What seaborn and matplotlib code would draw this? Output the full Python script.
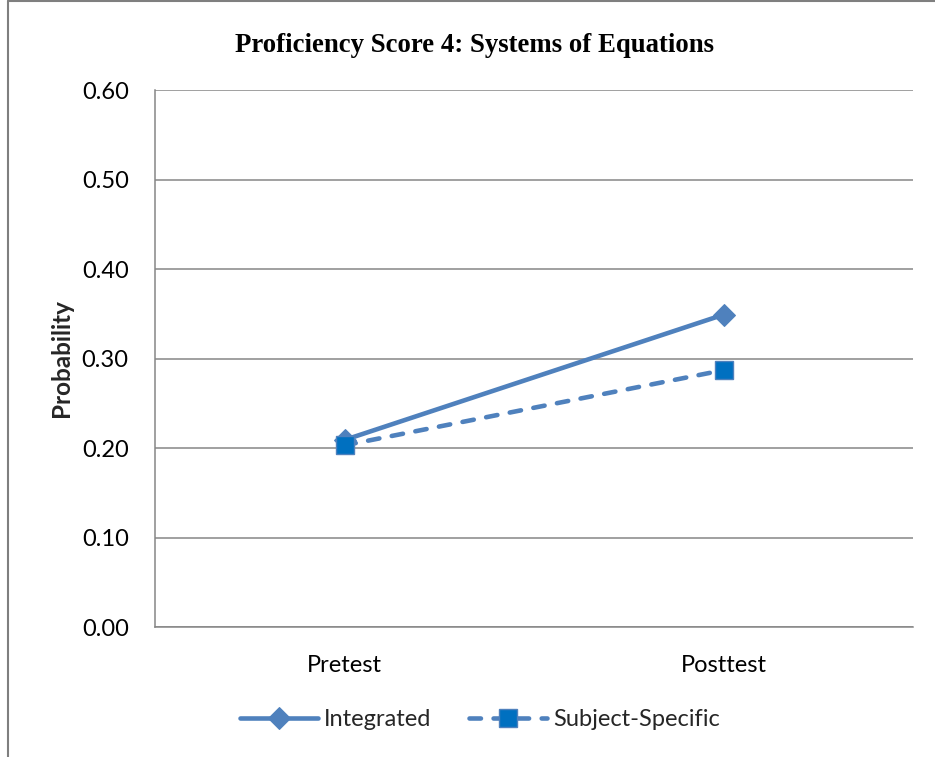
import pandas as pd
import seaborn as sns
import matplotlib.pyplot as plt
from matplotlib.lines import Line2D

# datos
tests = ["Pretest", "Posttest"]
integrated = [0.209, 0.349]
subject_specific = [0.203, 0.287]
yticks = [0.0, 0.1, 0.2, 0.3, 0.4, 0.5, 0.6]

line_col = "#4F81BD"
grid_col = "#868686"

sns.set_theme(style="white")
plt.rcParams['font.family'] = ['Lato', 'DejaVu Sans']

fig = plt.figure(figsize=(9.35, 7.57), dpi=100)
ax = fig.add_axes([0.1658, 0.1717, 0.8107, 0.7094])

df_int = pd.DataFrame({"test": tests, "prob": integrated})
df_sub = pd.DataFrame({"test": tests, "prob": subject_specific})

sns.lineplot(data=df_int, x="test", y="prob", ax=ax, color=line_col, lw=3.3,
             marker="D", markersize=11, markerfacecolor=line_col,
             markeredgecolor=line_col, label="Integrated", sort=False)
sns.lineplot(data=df_sub, x="test", y="prob", ax=ax, color=line_col, lw=3.3,
             marker="s", markersize=13.5, markerfacecolor="#0070C0",
             markeredgecolor=line_col, markeredgewidth=1, label="Subject-Specific",
             sort=False, dashes=False)
ln = ax.get_lines()[-1]
ln.set_linestyle((0, (2.5, 2.75)))
ln.set_dash_capstyle("round")

ax.set_xlim(-0.5, 1.5)
ax.set_ylim(0, 0.6)
ax.set_yticks(yticks)
ax.set_yticklabels([f"{v:.2f}" for v in yticks])
ax.tick_params(axis="both", labelsize=17, length=0, colors="black")
ax.tick_params(axis="y", pad=19)
ax.tick_params(axis="x", pad=20)
ax.yaxis.grid(True, color=grid_col, lw=1.1)
ax.set_axisbelow(True)
for s in ["top", "right"]:
    ax.spines[s].set_visible(False)
for s in ["left", "bottom"]:
    ax.spines[s].set_color(grid_col)
    ax.spines[s].set_linewidth(1.1)

ax.set_xlabel("")
ax.set_ylabel("Probability", fontsize=17.5, fontweight="bold", labelpad=6)
fig.text(0.508, 0.940, "Proficiency Score 4: Systems of Equations",
         ha="center", va="center", fontsize=19.3, fontweight="bold",
         family="Liberation Serif", color="black")

ax.legend(loc="center", bbox_to_anchor=(0.429, -0.172), ncol=2, frameon=False,
          fontsize=17, handlelength=3.3, numpoints=1, columnspacing=1.6,
          handletextpad=0.25)

# borde de la figura
fig.add_artist(Line2D([0.0086, 0.0086], [0, 0.999], color="#7f7f7f", lw=1.5))
fig.add_artist(Line2D([0.0086, 1.0], [0.999, 0.999], color="#7f7f7f", lw=1.5))

plt.savefig("out.png", dpi=100)
plt.close()
